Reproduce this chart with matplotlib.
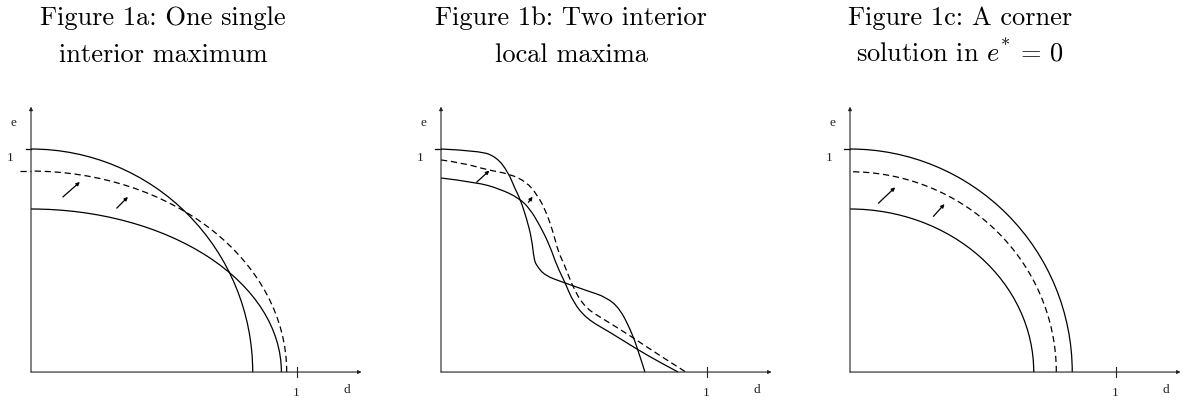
import matplotlib.pyplot as plt
from matplotlib.patches import Arc
from matplotlib.path import Path
from matplotlib.patches import PathPatch

plt.rcParams['mathtext.fontset'] = 'custom'
plt.rcParams['mathtext.rm'] = 'cmr10'
plt.rcParams['mathtext.it'] = 'cmmi10'
plt.rcParams['axes.formatter.use_mathtext'] = True

titles = [("Figure 1a: One single", "interior maximum"),
          ("Figure 1b: Two interior", "local maxima"),
          ("Figure 1c: A corner", r"solution in $e^{*}$ = 0")]

# quarter ellipses (semi-axis on d, semi-axis on e)
fig1_outer = (0.835, 1.0)
fig1_inner = (0.943, 0.731)
fig1_dashed = (0.963, 0.901)
fig3_outer = (0.837, 1.0)
fig3_dashed = (0.777, 0.898)
fig3_inner = (0.692, 0.731)

# figure 1b curves
fig2_steep_d = [0, 0.147, 0.210, 0.253, 0.279, 0.298, 0.323, 0.342, 0.350, 0.360,
                0.392, 0.461, 0.549, 0.624, 0.674, 0.712, 0.737, 0.768]
fig2_steep_e = [1.0, 0.992, 0.963, 0.896, 0.821, 0.776, 0.686, 0.596, 0.507, 0.477,
                0.432, 0.402, 0.365, 0.335, 0.283, 0.193, 0.118, 0.0]
fig2_inner_d = [0, 0.134, 0.222, 0.295, 0.335, 0.373, 0.410, 0.436, 0.467, 0.498,
                0.549, 0.637, 0.737, 0.825, 0.893]
fig2_inner_e = [0.870, 0.851, 0.821, 0.779, 0.731, 0.656, 0.566, 0.477, 0.402, 0.313,
                0.238, 0.178, 0.103, 0.043, 0.0]
fig2_dash_d = [0, 0.084, 0.172, 0.260, 0.323, 0.360, 0.392, 0.423, 0.442, 0.461,
               0.505, 0.549, 0.611, 0.712, 0.825, 0.922]
fig2_dash_e = [0.951, 0.937, 0.907, 0.888, 0.851, 0.798, 0.731, 0.626, 0.537, 0.492,
               0.357, 0.283, 0.238, 0.163, 0.073, 0.0]

arrows = [
    [((0.120, 0.785), (0.184, 0.852)), ((0.323, 0.735), (0.365, 0.785))],
    [((0.134, 0.851), (0.182, 0.903)), ((0.329, 0.761), (0.345, 0.786))],
    [((0.107, 0.757), (0.170, 0.828)), ((0.314, 0.698), (0.356, 0.753))],
]

DASH = (0, (5, 3))
LW = 0.9


def smooth_curve(ax, xs, ys, **kw):
    # quadratic bezier through midpoints of the traced points
    pts = list(zip(xs, ys))
    verts = [pts[0]]
    codes = [Path.MOVETO]
    for i in range(1, len(pts) - 1):
        if i == len(pts) - 2:
            end = pts[i + 1]
        else:
            end = ((pts[i][0] + pts[i + 1][0]) / 2, (pts[i][1] + pts[i + 1][1]) / 2)
        verts += [pts[i], end]
        codes += [Path.CURVE3, Path.CURVE3]
    ax.add_patch(PathPatch(Path(verts, codes), fill=False, **kw))


def quarter(ax, ab, **kw):
    a, b = ab
    ax.add_patch(Arc((0, 0), 2 * a, 2 * b, theta1=0, theta2=90, **kw))


def frame(ax):
    ax.set_xlim(-0.116, 1.25)
    ax.set_ylim(-0.12, 1.3)
    ax.axis('off')
    ap = dict(arrowstyle='-|>', lw=0.8, color='#222222', mutation_scale=5,
              shrinkA=0, shrinkB=0)
    ax.annotate('', xy=(1.245, 0), xytext=(0, 0), arrowprops=ap)
    ax.annotate('', xy=(0, 1.19), xytext=(0, 0), arrowprops=ap)
    ax.plot([1, 1], [-0.024, 0.024], color='#222222', lw=0.8)
    tf = dict(family='Liberation Serif', fontsize=9.5, color='#222222')
    ax.text(-0.068, 1.12, 'e', ha='center', va='center', **tf)
    ax.text(-0.079, 0.962, '1', ha='center', va='center', **tf)
    ax.text(1.0, -0.09, '1', ha='center', va='center', **tf)
    ax.text(1.188, -0.076, 'd', ha='center', va='center', **tf)


fig = plt.figure(figsize=(11.92, 4.06), dpi=100)

origins = [31, 441, 850]
axes = []
for ox in origins:
    left = (ox - 0.116 * 265.5) / 1192
    ax = fig.add_axes([left, 6.2 / 406, 362.7 / 1192, 316.7 / 406])
    frame(ax)
    axes.append(ax)

k = dict(color='black', lw=LW)

# Figure 1a
ax = axes[0]
quarter(ax, fig1_outer, **k)
quarter(ax, fig1_inner, **k)
quarter(ax, fig1_dashed, linestyle=DASH, **k)
ax.plot([-0.02, 0], [fig1_outer[1], fig1_outer[1]], **k)
ax.plot([-0.04, 0], [fig1_dashed[1], fig1_dashed[1]], linestyle=DASH, **k)

# Figure 1b
ax = axes[1]
smooth_curve(ax, fig2_steep_d, fig2_steep_e, **k)
smooth_curve(ax, fig2_inner_d, fig2_inner_e, **k)
smooth_curve(ax, fig2_dash_d, fig2_dash_e, linestyle=DASH, **k)
ax.plot([-0.022, 0], [fig2_steep_e[0], fig2_steep_e[0]], **k)

# Figure 1c
ax = axes[2]
quarter(ax, fig3_outer, **k)
quarter(ax, fig3_dashed, linestyle=DASH, **k)
quarter(ax, fig3_inner, **k)
ax.plot([-0.023, 0], [fig3_outer[1], fig3_outer[1]], **k)

for ax, arr in zip(axes, arrows):
    for start, end in arr:
        ax.annotate('', xy=end, xytext=start,
                    arrowprops=dict(arrowstyle='-|>', lw=0.9, color='black',
                                    mutation_scale=5, shrinkA=0, shrinkB=0))

centers = [163, 571, 960]
for cx, (l1, l2) in zip(centers, titles):
    fig.text(cx / 1192, 1 - 25 / 406, l1, ha='center', va='baseline',
             family='cmr10', fontsize=19)
    fig.text(cx / 1192, 1 - 62 / 406, l2, ha='center', va='baseline',
             family='cmr10', fontsize=19)

fig.savefig('out.png', dpi=100)
